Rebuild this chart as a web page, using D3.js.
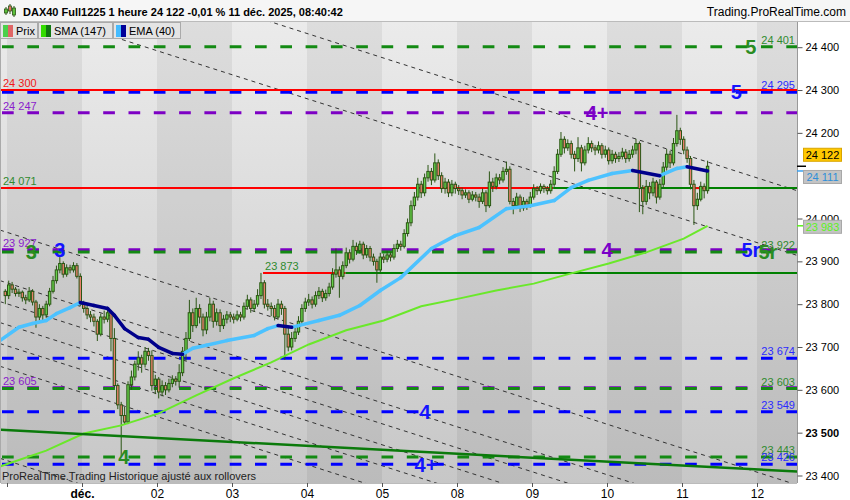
<!DOCTYPE html>
<html><head><meta charset="utf-8">
<script src="https://cdn.jsdelivr.net/npm/d3@7"></script>
<style>
html,body{margin:0;padding:0;background:#fff;}
svg{display:block;font-family:"Liberation Sans",Arial,sans-serif;}
</style></head><body>
<svg id="chart" width="850" height="500"></svg>
<script>
// ---------------- DATA ----------------
const titleText = "DAX40 Full1225 1 heure 24 122 -0,01 % 11 déc. 2025, 08:40:42";
const sourceText = "Trading.ProRealTime.com";
const footText = "ProRealTime.Trading  Historique ajusté aux rollovers";
const legendNames = ["Prix", "SMA (147)", "EMA (40)"];
const dayLabels = ["", "déc.", "02", "03", "04", "05", "08", "09", "10", "11", "12"];
const candlesPerDay = 22;
const firstIndex = -1;
const yTicks = [23400, 23500, 23600, 23700, 23800, 23900, 24000, 24100, 24200, 24300, 24400];

// hourly candles [open, high, low, close]
const candles = [
[23830,23835,23800,23820],
// 28 nov
[23820,23855,23812,23845],[23845,23852,23826,23835],[23835,23840,23818,23825],[23825,23836,23817,23828],[23828,23832,23806,23815],[23815,23822,23800,23810],[23810,23840,23805,23830],[23830,23835,23797,23805],[23805,23810,23745,23770],[23770,23800,23762,23790],[23790,23796,23760,23775],[23775,23808,23768,23800],[23800,23838,23795,23830],[23830,23866,23825,23855],[23855,23890,23848,23880],[23880,23910,23872,23895],[23895,23900,23862,23870],[23870,23893,23864,23885],[23885,23892,23872,23880],[23880,23898,23874,23890],[23890,23896,23860,23865],[23865,23872,23795,23800],
// 1 dec
[23800,23808,23780,23790],[23790,23798,23765,23775],[23775,23784,23758,23770],[23770,23778,23748,23760],[23760,23765,23714,23730],[23730,23778,23725,23770],[23770,23785,23755,23765],[23765,23790,23758,23780],[23780,23786,23690,23720],[23720,23744,23605,23610],[23610,23615,23555,23565],[23565,23572,23445,23540],[23540,23560,23518,23525],[23525,23620,23520,23612],[23612,23645,23600,23630],[23630,23668,23622,23660],[23660,23690,23645,23675],[23675,23682,23640,23660],[23660,23700,23652,23690],[23690,23698,23668,23680],[23680,23692,23598,23610],[23610,23635,23590,23625],
// 2 dec
[23625,23630,23580,23595],[23595,23622,23585,23610],[23610,23618,23588,23600],[23600,23626,23594,23615],[23615,23634,23606,23625],[23625,23632,23610,23620],[23620,23660,23605,23640],[23640,23700,23632,23690],[23690,23735,23668,23720],[23720,23810,23714,23780],[23780,23790,23735,23750],[23750,23815,23744,23790],[23790,23800,23755,23770],[23770,23778,23725,23740],[23740,23782,23730,23770],[23770,23815,23760,23800],[23800,23808,23745,23760],[23760,23790,23750,23780],[23780,23788,23735,23750],[23750,23775,23742,23765],[23765,23784,23755,23775],[23775,23782,23758,23770],
// 3 dec
[23770,23778,23755,23765],[23765,23785,23760,23775],[23775,23782,23760,23770],[23770,23804,23764,23795],[23795,23822,23788,23810],[23810,23816,23780,23790],[23790,23810,23782,23800],[23800,23835,23794,23820],[23820,23873,23812,23850],[23850,23856,23790,23800],[23800,23812,23785,23795],[23795,23804,23772,23790],[23790,23798,23762,23770],[23770,23812,23764,23800],[23800,23808,23775,23790],[23790,23796,23670,23730],[23730,23745,23690,23700],[23700,23735,23692,23720],[23720,23750,23712,23735],[23735,23772,23728,23760],[23760,23800,23752,23790],[23790,23815,23782,23805],
// 4 dec
[23805,23824,23796,23810],[23810,23818,23790,23800],[23800,23830,23794,23820],[23820,23840,23812,23830],[23830,23836,23805,23815],[23815,23834,23808,23825],[23825,23850,23818,23840],[23840,23884,23834,23870],[23870,23930,23862,23880],[23880,23888,23815,23865],[23865,23900,23858,23890],[23890,23932,23884,23920],[23920,23928,23895,23905],[23905,23950,23900,23935],[23935,23944,23915,23925],[23925,23948,23918,23940],[23940,23946,23905,23915],[23915,23938,23908,23930],[23930,23936,23900,23910],[23910,23918,23890,23900],[23900,23906,23850,23880],[23880,23920,23874,23910],
// 5 dec
[23910,23918,23896,23905],[23905,23924,23898,23915],[23915,23922,23900,23910],[23910,23940,23904,23930],[23930,23950,23922,23940],[23940,23948,23925,23935],[23935,23975,23930,23965],[23965,24000,23958,23990],[23990,24042,23982,24030],[24030,24062,24020,24050],[24050,24095,24042,24080],[24080,24088,24048,24060],[24060,24105,24052,24095],[24095,24125,24086,24110],[24110,24118,24078,24090],[24090,24152,24084,24130],[24130,24138,24090,24100],[24100,24108,24060,24070],[24070,24095,24058,24085],[24085,24092,24050,24060],[24060,24090,24052,24080],[24080,24086,24058,24070],
// 8 dec
[24070,24078,24055,24065],[24065,24072,24045,24055],[24055,24068,24048,24060],[24060,24066,24036,24045],[24045,24064,24040,24055],[24055,24062,24040,24050],[24050,24058,24025,24040],[24040,24070,24034,24060],[24060,24066,24015,24030],[24030,24110,24025,24085],[24085,24095,24062,24075],[24075,24105,24068,24095],[24095,24104,24080,24090],[24090,24120,24084,24110],[24110,24133,24102,24115],[24115,24122,24033,24040],[24040,24048,24010,24030],[24030,24060,24022,24050],[24050,24056,24015,24025],[24025,24050,24018,24040],[24040,24046,24020,24030],[24030,24062,24025,24050],
// 9 dec
[24050,24080,24044,24070],[24070,24076,24055,24065],[24065,24082,24058,24075],[24075,24080,24060,24070],[24070,24076,24056,24065],[24065,24090,24058,24080],[24080,24122,24074,24110],[24110,24162,24104,24150],[24150,24202,24144,24185],[24185,24192,24152,24165],[24165,24185,24158,24175],[24175,24182,24140,24150],[24150,24158,24110,24140],[24140,24190,24132,24165],[24165,24172,24110,24130],[24130,24170,24124,24160],[24160,24190,24152,24175],[24175,24182,24155,24165],[24165,24172,24148,24160],[24160,24180,24152,24170],[24170,24176,24140,24150],[24150,24170,24142,24160],
// 10 dec
[24160,24166,24126,24135],[24135,24160,24128,24150],[24150,24156,24130,24140],[24140,24155,24132,24145],[24145,24165,24138,24155],[24155,24162,24130,24140],[24140,24160,24133,24150],[24150,24170,24142,24160],[24160,24186,24150,24175],[24175,24180,24015,24070],[24070,24078,24010,24040],[24040,24090,24032,24075],[24075,24085,24045,24060],[24060,24095,24052,24085],[24085,24090,24035,24050],[24050,24092,24044,24080],[24080,24132,24072,24120],[24120,24162,24112,24150],[24150,24158,24118,24130],[24130,24188,24124,24175],[24175,24242,24168,24205],[24205,24212,24172,24185],
// 11 dec
[24185,24192,24150,24160],[24160,24168,24130,24140],[24140,24146,24068,24080],[24080,24090,23985,24030],[24030,24060,24020,24045],[24045,24086,24040,24075],[24075,24082,24047,24065],[24065,24135,24058,24122]
];

// SMA(147) readings (candle index, value)
const smaIdx = [-2.6, 0, 11, 22, 33, 44, 55, 66, 77, 88, 99, 110, 121, 132, 143, 154, 165, 176, 187, 198, 205];
const smaVal = [23421, 23428, 23458, 23498, 23517, 23545, 23587, 23627, 23664, 23706, 23739, 23762, 23795, 23813, 23832, 23848, 23872, 23895, 23921, 23953, 23983];
// EMA(40) readings (candle index, value)
const emaIdx = [-2.6, 3, 7, 11, 14, 18, 21, 25, 29, 31, 34, 38, 41, 44, 48, 51, 54, 58, 64, 72, 76, 79, 83, 85, 91, 97, 103, 109, 115, 124, 131, 138, 146, 153, 160, 165, 170, 177, 183, 191, 196, 199, 205];
const emaVal = [23715, 23746, 23755, 23762, 23778, 23792, 23804, 23797, 23790, 23774, 23743, 23722, 23718, 23699, 23685, 23683, 23697, 23704, 23715, 23727, 23743, 23750, 23746, 23750, 23762, 23774, 23797, 23832, 23862, 23930, 23960, 23979, 24023, 24030, 24042, 24072, 24089, 24105, 24112, 24100, 24117, 24121, 24111];

// horizontal levels
const greenDashLevels = [24401, 23922, 23603, 23443];
const blueDashLevels = [24295, 23674, 23549, 23426];
const purpleDashLevels = [24247, 23927, 23605];
const redLevel = 24300;
const level24071 = 24071;
const level23873 = 23873;
// [fromIndex, toIndex, colour key]
const segs24071 = [[-3, 159.7, "red"], [159.7, 232, "green"], [186.1, 190.5, "red"], [200.7, 203.7, "red"]];
const segs23873 = [[74.6, 98.8, "red"], [98.8, 232, "green"]];

// wave markers [text, value, candle index, colour key]
const markers = [
  ["5", 24401, 217.7, "green"], ["5", 24295, 213.4, "blue"], ["4+", 24247, 172.6, "purple"],
  ["4", 23927, 175.5, "purple"], ["3", 23922, 6.6, "green"], ["3", 23927, 15.0, "blue"],
  ["5r", 23927, 217.7, "blue"], ["5r", 23922, 222.7, "green"], ["4", 23549, 122.1, "blue"],
  ["4+", 23426, 122.4, "blue"], ["4", 23443, 33.8, "green"]
];

// dashed channel lines: value at left edge and right edge of the plot
const chanLeftIdx = -2.55, chanRightIdx = 231.23;
const chanLeft  = [24662, 24509, 23973, 23855, 23806, 23757, 23708, 23655, 23440];
const chanRight = [24065, 23914, 23378, 23260, 23211, 23162, 23113, 23059, 22844];
// long green trend line
const trendIdx = [-2.55, 231.5];
const trendVal = [23507, 23409];

// current values on the price axis
const lastPrice = 24122, lastEma = 24111, lastSma = 23983;

// ---------------- CHART ----------------
const svg = d3.select("#chart");
const P = {l: 1, r: 797, t: 22, b: 483};
const x = d3.scaleLinear().domain([-0.5, 219.5]).range([7, 757]);
const y = d3.scaleLinear().domain([23400, 24400]).range([475.5, 47.2]);
const fmt = v => d3.format(",")(v).replace(/,/g, " ");
const C = {green: "#138a13", blue: "#0000ff", purple: "#7d00c4", red: "#ff0000", dgreen: "#008000"};
const MC = {green: "#2a8c22", blue: "#1414ff", purple: "#7a00c8"};
const LC = {green: "#2f8a2f", blue: "#2b2bff", purple: "#8a1ccc", red: "#f01818"};

const defs = svg.append("defs");
const grad = defs.append("linearGradient").attr("id", "bg").attr("x1", 0).attr("y1", 0).attr("x2", 0).attr("y2", 1);
grad.append("stop").attr("offset", 0).attr("stop-color", "#ebebeb");
grad.append("stop").attr("offset", 1).attr("stop-color", "#c7c7c7");
defs.append("clipPath").attr("id", "clip").append("rect")
  .attr("x", P.l).attr("y", P.t).attr("width", P.r - P.l).attr("height", P.b - P.t);

svg.append("rect").attr("width", 850).attr("height", 500).attr("fill", "#fff");
svg.append("rect").attr("x", P.l).attr("y", P.t).attr("width", P.r - P.l).attr("height", P.b - P.t).attr("fill", "url(#bg)");

const g = svg.append("g").attr("clip-path", "url(#clip)");

// day bands
d3.range(-1, 11).forEach(d => {
  if (d % 2 === 0) {
    g.append("rect").attr("x", x(d * candlesPerDay - 0.5)).attr("y", P.t)
      .attr("width", x((d + 1) * candlesPerDay - 0.5) - x(d * candlesPerDay - 0.5))
      .attr("height", P.b - P.t).attr("fill", "#000").attr("opacity", 0.06);
  }
});

// channel lines
chanLeft.forEach((v, k) => {
  g.append("line").attr("x1", x(chanLeftIdx)).attr("y1", y(v))
    .attr("x2", x(chanRightIdx)).attr("y2", y(chanRight[k]))
    .attr("stroke", "#333").attr("stroke-width", 1).attr("stroke-dasharray", "4,4");
});

// dashed levels
function dashLevel(v, col) {
  g.append("line").attr("x1", P.l).attr("x2", P.r).attr("y1", y(v)).attr("y2", y(v))
    .attr("stroke", col).attr("stroke-width", 3).attr("stroke-dasharray", "11.7,13.6").attr("stroke-dashoffset", -1);
}
blueDashLevels.forEach(v => dashLevel(v, C.blue));
purpleDashLevels.forEach(v => dashLevel(v, C.purple));
greenDashLevels.forEach(v => dashLevel(v, C.green));

// solid levels
g.append("line").attr("x1", P.l).attr("x2", P.r).attr("y1", y(redLevel)).attr("y2", y(redLevel))
  .attr("stroke", C.red).attr("stroke-width", 2);
function segLevel(v, segs) {
  segs.forEach(s => {
    g.append("line").attr("x1", x(s[0])).attr("x2", x(s[1])).attr("y1", y(v)).attr("y2", y(v))
      .attr("stroke", s[2] === "red" ? C.red : C.dgreen).attr("stroke-width", 2);
  });
}
segLevel(level24071, segs24071);
segLevel(level23873, segs23873);

// candles
const cg = g.append("g");
candles.forEach((c, k) => {
  const i = firstIndex + k, cx = x(i);
  const [o, h, l, cl] = c;
  cg.append("line").attr("x1", cx).attr("x2", cx).attr("y1", y(h)).attr("y2", y(l))
    .attr("stroke", "#2b5514").attr("stroke-width", 1);
  const top = y(Math.max(o, cl)), bot = y(Math.min(o, cl));
  cg.append("rect").attr("x", cx - 1.2).attr("width", 2.4).attr("y", top).attr("height", Math.max(1, bot - top))
    .attr("fill", cl >= o ? "#66d04a" : "#e8806c").attr("stroke", "#2b5514").attr("stroke-width", 1);
});

// SMA
const line = d3.line().x(d => x(d[0])).y(d => y(d[1]));
g.append("path").attr("d", line(smaIdx.map((v, k) => [v, smaVal[k]])))
  .attr("fill", "none").attr("stroke", "#6ae82a").attr("stroke-width", 2);

// EMA coloured by direction
const emaPts = emaIdx.map((v, k) => [v, emaVal[k]]);
["light", "dark"].forEach(kind => {
  for (let k = 0; k < emaPts.length - 1; k++) {
    const falling = emaPts[k + 1][1] < emaPts[k][1];
    if ((kind === "dark") !== falling) continue;
    g.append("path").attr("d", line([emaPts[k], emaPts[k + 1]]))
      .attr("fill", "none").attr("stroke", falling ? "#00008b" : "#4cc2ff")
      .attr("stroke-width", 3.5).attr("stroke-linecap", "round");
  }
});

// trend line
g.append("line").attr("x1", x(trendIdx[0])).attr("y1", y(trendVal[0]))
  .attr("x2", x(trendIdx[1])).attr("y2", y(trendVal[1]))
  .attr("stroke", "#0b7a0b").attr("stroke-width", 2.5);

// level labels
function lab(txt, xx, yy, col, anchor) {
  g.append("text").attr("x", xx).attr("y", yy).attr("fill", col).attr("font-size", 11)
    .attr("text-anchor", anchor).text(txt);
}
greenDashLevels.forEach(v => lab(fmt(v), 795, y(v) - 3, LC.green, "end"));
blueDashLevels.forEach(v => lab(fmt(v), 795, y(v) - 3, LC.blue, "end"));
purpleDashLevels.forEach(v => lab(fmt(v), 3, y(v) - 3, LC.purple, "start"));
lab(fmt(redLevel), 3, y(redLevel) - 3, LC.red, "start");
lab(fmt(level24071), 3, y(level24071) - 3, LC.green, "start");
lab(fmt(level23873), x(segs23873[0][0]) + 2, y(level23873) - 3, LC.green, "start");

// wave markers
markers.forEach(m => {
  g.append("text").attr("x", x(m[2])).attr("y", y(m[1])).attr("dy", "0.36em")
    .attr("text-anchor", "middle").attr("font-size", 20).attr("font-weight", "bold")
    .attr("fill", MC[m[3]]).text(m[0]);
});

// footnote
svg.append("text").attr("x", 2).attr("y", 480).attr("font-size", 11).attr("fill", "#222").text(footText);

// ---------------- AXES ----------------
svg.append("line").attr("x1", P.r + 0.5).attr("x2", P.r + 0.5).attr("y1", P.t).attr("y2", P.b).attr("stroke", "#999");
svg.append("line").attr("x1", P.l).attr("x2", P.r).attr("y1", P.b + 0.5).attr("y2", P.b + 0.5).attr("stroke", "#bbb");
svg.append("line").attr("x1", 0.5).attr("x2", 0.5).attr("y1", P.t).attr("y2", P.b).attr("stroke", "#aaa");

const yAxis = svg.append("g").attr("transform", `translate(${P.r + 0.5},0)`)
  .call(d3.axisRight(y).tickValues(yTicks.filter(v => v !== 24100)).tickSize(5).tickPadding(3).tickFormat(fmt));
yAxis.select(".domain").remove();
yAxis.selectAll("line").attr("stroke", "#555");
yAxis.selectAll("text").attr("font-size", 11).attr("fill", "#000").attr("font-family", "Liberation Sans, Arial, sans-serif")
  .attr("font-weight", d => d === 23500 ? "bold" : "normal");

const xAxis = svg.append("g").attr("transform", `translate(0,${P.b})`)
  .call(d3.axisBottom(x).tickValues(dayLabels.map((d, k) => k * candlesPerDay - 0.5)).tickSize(4).tickPadding(2)
    .tickFormat((d, k) => dayLabels[k]));
xAxis.select(".domain").remove();
xAxis.selectAll("line").attr("stroke", "#555");
xAxis.selectAll("text").attr("font-size", 12).attr("fill", "#000").attr("font-family", "Liberation Sans, Arial, sans-serif")
  .attr("font-weight", (d, k) => k === 1 ? "bold" : "normal");

// price boxes on the axis
function priceBox(v, off, bg, border, col, tick) {
  svg.append("line").attr("x1", P.r).attr("x2", P.r + 9).attr("y1", y(v)).attr("y2", y(v)).attr("stroke", tick).attr("stroke-width", 1.5);
  const cy = y(v) + off;
  svg.append("rect").attr("x", 803.5).attr("y", cy - 6.5).attr("width", 38).attr("height", 13)
    .attr("fill", bg).attr("stroke", border);
  svg.append("text").attr("x", 822.5).attr("y", cy).attr("dy", "0.36em").attr("text-anchor", "middle")
    .attr("font-size", 11).attr("fill", col).text(fmt(v));
}
priceBox(lastPrice, -11.5, "#ffc800", "#d9a400", "#000", "#000");
priceBox(lastEma, 6, "#c4c4c4", "#a8a8a8", "#2f8fd8", "#3aa0f0");
priceBox(lastSma, 1, "#c4c4c4", "#a8a8a8", "#5cf01e", "#5cf01e");

// ---------------- HEADER ----------------
svg.append("rect").attr("x", 0).attr("y", 0).attr("width", 850).attr("height", P.t).attr("fill", "#f6f6f6");
svg.append("line").attr("x1", 0).attr("x2", 850).attr("y1", P.t - 0.5).attr("y2", P.t - 0.5).attr("stroke", "#bbb");
// icon
[[6, 7, 15, 9, 13, "#5cc23c"], [10, 4, 14, 6, 11, "#e07060"], [14, 6, 17, 8, 15, "#5cc23c"]].forEach(c => {
  svg.append("line").attr("x1", c[0]).attr("x2", c[0]).attr("y1", c[1]).attr("y2", c[2]).attr("stroke", "#2b5514");
  svg.append("rect").attr("x", c[0] - 1.5).attr("y", c[3]).attr("width", 3).attr("height", c[4] - c[3]).attr("fill", c[5]).attr("stroke", "#2b5514").attr("stroke-width", 0.8);
});
svg.append("text").attr("x", 23).attr("y", 16).attr("font-size", 11).attr("font-weight", "bold").attr("fill", "#000").text(titleText);
svg.append("text").attr("x", 846).attr("y", 16).attr("font-size", 12).attr("text-anchor", "end").attr("fill", "#000").text(sourceText);

// legend tabs
const tabs = [[0, 37, "#4bd04b", "#e06666"], [38, 112, "#33dd00", "#117711"], [113, 180, "#44bbff", "#000099"]];
tabs.forEach((t, k) => {
  svg.append("rect").attr("x", t[0] + 0.5).attr("y", P.t + 0.5).attr("width", t[1] - t[0]).attr("height", 16)
    .attr("fill", "#e4e4e4").attr("stroke", "#aaa");
  svg.append("rect").attr("x", t[0] + 3).attr("y", P.t + 3).attr("width", 5).attr("height", 12).attr("fill", t[2]);
  svg.append("rect").attr("x", t[0] + 8).attr("y", P.t + 3).attr("width", 5).attr("height", 12).attr("fill", t[3]);
  svg.append("text").attr("x", t[0] + 16).attr("y", P.t + 13).attr("font-size", 11).attr("fill", "#000").text(legendNames[k]);
});
</script>
</body></html>
